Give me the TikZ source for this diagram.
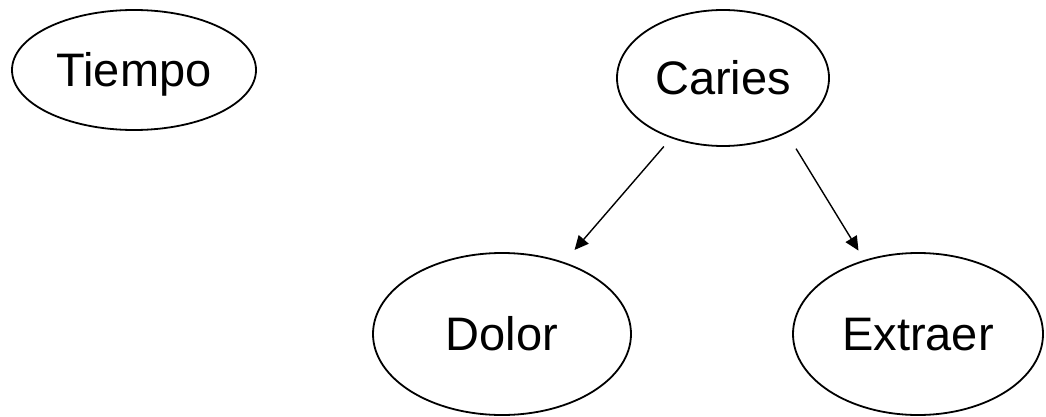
\documentclass[tikz,border=0pt]{standalone}
\usepackage{fontspec}
\setmainfont{Liberation Sans}
\usetikzlibrary{arrows.meta,shapes.geometric}
\begin{document}
\begin{tikzpicture}[x=1pt,y=-1pt,
  var/.style={draw, ellipse, line width=1.8pt, inner sep=0pt,
    font=\fontsize{47}{50}\selectfont, text height=33.7pt, text depth=0pt},
  arrow/.style={line width=1.4pt, -{Triangle[length=14pt,width=13pt]}}]
\useasboundingbox (0,0) rectangle (1046,417);
\node[var, minimum width=244pt, minimum height=120pt] (tiempo) at (134,70) {Tiempo};
\node[var, minimum width=212pt, minimum height=136pt] (caries) at (723,78) {Caries};
\node[var, minimum width=258pt, minimum height=162pt] (dolor) at (502,334) {Dolor};
\node[var, minimum width=250pt, minimum height=162pt] (extraer) at (918,334) {Extraer};
\draw[arrow, shorten <=11pt, shorten >=16pt] (caries) -- (dolor);
\draw[arrow, shorten <=18pt, shorten >=11pt] (caries.-41) -- (extraer.126);
\end{tikzpicture}
\end{document}
